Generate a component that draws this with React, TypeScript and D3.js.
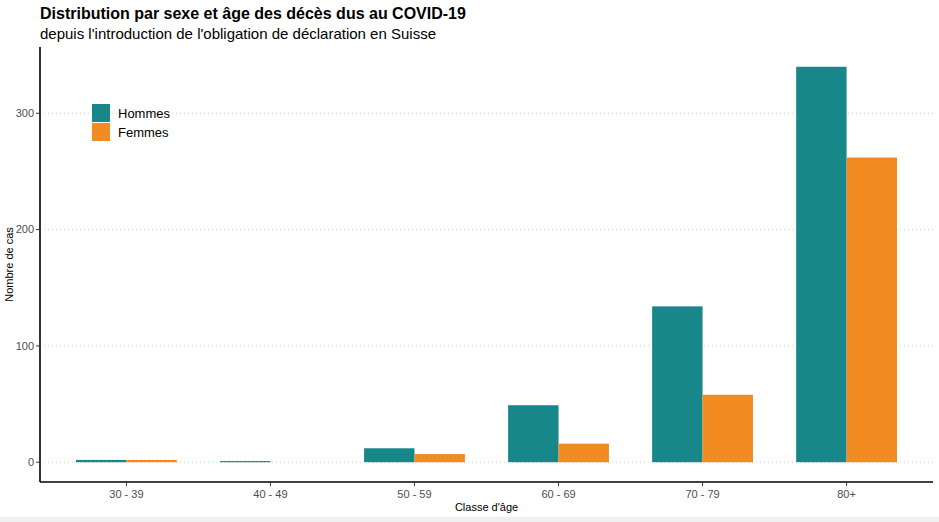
import { useEffect, useRef } from 'react'
import * as d3 from 'd3'

const categories = ['30 - 39', '40 - 49', '50 - 59', '60 - 69', '70 - 79', '80+']
const hommes = [2, 1, 12, 49, 134, 340]
const femmes = [2, 0, 7, 16, 58, 262]
const seriesNames = ['Hommes', 'Femmes']
const seriesColors = ['#17878a', '#f18b22']
const yTicks = [0, 100, 200, 300]

const W = 939
const H = 522

export default function App() {
  const ref = useRef<SVGSVGElement | null>(null)

  useEffect(() => {
    const svg = d3.select(ref.current)
    svg.selectAll('*').remove()
    svg.attr('width', W).attr('height', H).style('font-family', 'Liberation Sans, Arial, sans-serif')

    svg.append('rect').attr('width', W).attr('height', H).attr('fill', '#fff')
    svg.append('rect').attr('x', 0).attr('y', 517).attr('width', W).attr('height', 5).attr('fill', '#f0f0f0')

    const left = 40
    const right = 933
    const top = 47
    const bottom = 482

    // ggplot-like 5% expansion on the value axis
    const maxV = d3.max([...hommes, ...femmes]) as number
    const pad = maxV * 0.05
    const y = d3.scaleLinear().domain([-pad, maxV + pad]).range([bottom, top])
    // discrete axis: 0.6 units of expansion each side
    const x = d3.scalePoint<string>().domain(categories).range([0, categories.length - 1])
    const unit = (right - left) / (categories.length - 1 + 1.2)
    const cx = (c: string) => left + unit * (0.6 + (x(c) as number))
    const barW = unit * 0.35

    // grid
    svg.append('g').selectAll('line').data(yTicks).enter().append('line')
      .attr('x1', left).attr('x2', right)
      .attr('y1', (d) => y(d)).attr('y2', (d) => y(d))
      .attr('stroke', '#d0d0d0').attr('stroke-width', 1).attr('stroke-dasharray', '1 3')

    const g = svg.append('g')
    categories.forEach((c, i) => {
      ;[hommes[i], femmes[i]].forEach((v, k) => {
        if (v <= 0) return
        g.append('rect')
          .attr('x', cx(c) - barW + k * barW)
          .attr('y', y(v))
          .attr('width', barW)
          .attr('height', y(0) - y(v))
          .attr('fill', seriesColors[k])
      })
    })

    // axes
    svg.append('line').attr('x1', left).attr('x2', left).attr('y1', top).attr('y2', bottom)
      .attr('stroke', '#000').attr('stroke-width', 1.6)
    svg.append('line').attr('x1', left).attr('x2', right).attr('y1', bottom).attr('y2', bottom)
      .attr('stroke', '#000').attr('stroke-width', 1.6)

    yTicks.forEach((t) => {
      svg.append('line').attr('x1', left - 4).attr('x2', left).attr('y1', y(t)).attr('y2', y(t))
        .attr('stroke', '#333').attr('stroke-width', 1)
      svg.append('text').attr('x', left - 6).attr('y', y(t)).attr('dy', '0.35em')
        .attr('text-anchor', 'end').attr('fill', '#4d4d4d').style('font-size', '11px').text(t)
    })
    categories.forEach((c) => {
      svg.append('line').attr('x1', cx(c)).attr('x2', cx(c)).attr('y1', bottom).attr('y2', bottom + 4)
        .attr('stroke', '#333').attr('stroke-width', 1)
      svg.append('text').attr('x', cx(c)).attr('y', bottom + 16)
        .attr('text-anchor', 'middle').attr('fill', '#4d4d4d').style('font-size', '11px').text(c)
    })

    svg.append('text').attr('x', (left + right) / 2).attr('y', 511).attr('text-anchor', 'middle')
      .attr('fill', '#000').style('font-size', '11px').text("Classe d'âge")
    svg.append('text').attr('transform', `translate(13,${(top + bottom) / 2}) rotate(-90)`)
      .attr('text-anchor', 'middle').attr('fill', '#000').style('font-size', '11px').text('Nombre de cas')

    // titles
    svg.append('text').attr('x', 40).attr('y', 19).attr('fill', '#000')
      .style('font-size', '16px').style('font-weight', 'bold')
      .text('Distribution par sexe et âge des décès dus au COVID-19')
    svg.append('text').attr('x', 40).attr('y', 39).attr('fill', '#000')
      .style('font-size', '15px')
      .text("depuis l'introduction de l'obligation de déclaration en Suisse")

    // legend
    const lg = svg.append('g').attr('transform', 'translate(92,104)')
    seriesNames.forEach((n, k) => {
      lg.append('rect').attr('x', 0).attr('y', k * 19).attr('width', 18).attr('height', 18)
        .attr('fill', seriesColors[k])
      lg.append('text').attr('x', 26).attr('y', k * 19 + 9).attr('dy', '0.35em')
        .attr('fill', '#000').style('font-size', '13px').text(n)
    })
  }, [])

  return (
    <div style={{ position: 'fixed', left: 0, top: 0 }}>
      <svg ref={ref} />
    </div>
  )
}
